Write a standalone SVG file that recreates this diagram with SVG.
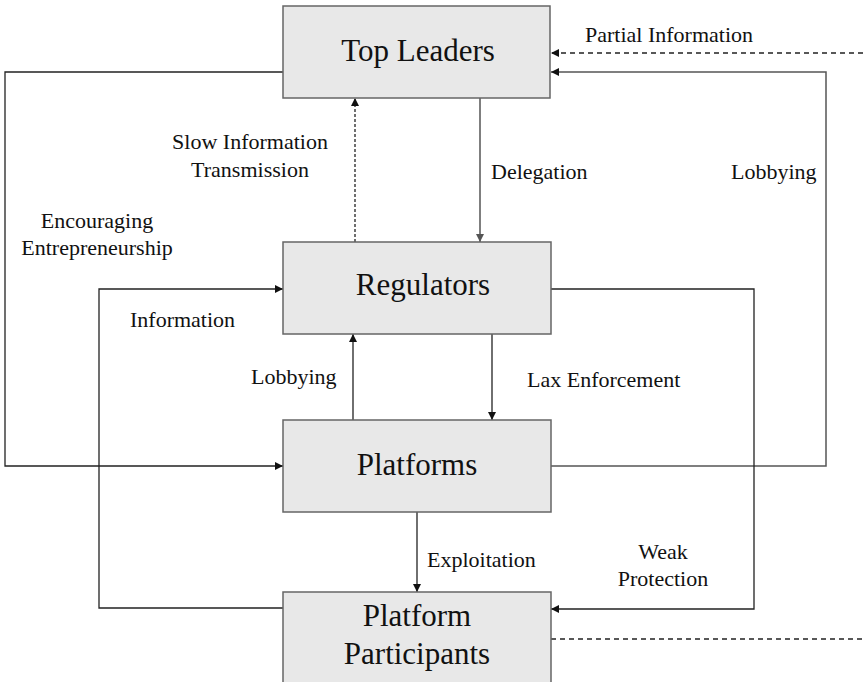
<svg xmlns="http://www.w3.org/2000/svg" width="863" height="682" viewBox="0 0 863 682">
<style>
.box{fill:#e8e8e8;stroke:#666;stroke-width:1.5}
.nt{font-family:"Liberation Serif",serif;font-size:31px;fill:#111;text-anchor:middle}
.lt{font-family:"Liberation Serif",serif;font-size:22px;fill:#111}
.c{fill:none;stroke:#222;stroke-width:1.3}
.g{fill:none;stroke:#555;stroke-width:1.5}
.d{stroke-dasharray:5,4}
.d2{stroke-dasharray:3,2}
</style>
<defs>
<marker id="ah" viewBox="0 0 10 10" refX="10" refY="5" markerWidth="8" markerHeight="8" markerUnits="userSpaceOnUse" orient="auto">
<path d="M0,0 L10,5 L0,10 z" fill="#111"/>
</marker>
<marker id="ahg" viewBox="0 0 10 10" refX="10" refY="5" markerWidth="8" markerHeight="8" markerUnits="userSpaceOnUse" orient="auto">
<path d="M0,0 L10,5 L0,10 z" fill="#555"/>
</marker>
</defs>
<rect width="863" height="682" fill="#fff"/>
<g id="connectors">
<path class="c d" d="M863,53 L551,53" marker-end="url(#ah)"/>
<path class="g" d="M551,466 L826,466 L826,72 L551,72" marker-end="url(#ah)"/>
<path class="c" d="M283,72 L5,72 L5,466 L283,466" marker-end="url(#ah)"/>
<path class="c d2" d="M355,242 L355,98" marker-end="url(#ah)"/>
<path class="g" d="M480,98 L480,242" marker-end="url(#ahg)"/>
<path class="c" d="M283,608 L99,608 L99,289 L283,289" marker-end="url(#ah)"/>
<path class="c" d="M551,289 L754,289 L754,609 L551,609" marker-end="url(#ah)"/>
<path class="c" d="M353,420 L353,334" marker-end="url(#ah)"/>
<path class="c" d="M492,334 L492,420" marker-end="url(#ah)"/>
<path class="c" d="M417,512 L417,592" marker-end="url(#ah)"/>
<path class="c d" d="M551,639 L863,639"/>
</g>
<g id="top-leaders">
<rect class="box" x="283" y="6" width="267" height="92"/>
<text class="nt" x="418" y="61">Top Leaders</text>
</g>
<g id="regulators">
<rect class="box" x="283" y="242" width="268" height="92"/>
<text class="nt" x="423" y="295">Regulators</text>
</g>
<g id="platforms">
<rect class="box" x="283" y="420" width="268" height="92"/>
<text class="nt" x="417" y="475">Platforms</text>
</g>
<g id="platform-participants">
<rect class="box" x="283" y="592" width="268" height="100"/>
<text class="nt" x="417" y="626">Platform</text>
<text class="nt" x="417" y="664">Participants</text>
</g>
<g id="labels">
<text class="lt" x="585" y="42">Partial Information</text>
<text class="lt" x="250" y="149" text-anchor="middle">Slow Information</text>
<text class="lt" x="250" y="177" text-anchor="middle">Transmission</text>
<text class="lt" x="491" y="179">Delegation</text>
<text class="lt" x="731" y="179">Lobbying</text>
<text class="lt" x="97" y="228" text-anchor="middle">Encouraging</text>
<text class="lt" x="97" y="255" text-anchor="middle">Entrepreneurship</text>
<text class="lt" x="130" y="327">Information</text>
<text class="lt" x="251" y="384">Lobbying</text>
<text class="lt" x="527" y="387">Lax Enforcement</text>
<text class="lt" x="427" y="567">Exploitation</text>
<text class="lt" x="663" y="559" text-anchor="middle">Weak</text>
<text class="lt" x="663" y="586" text-anchor="middle">Protection</text>
</g>
</svg>
